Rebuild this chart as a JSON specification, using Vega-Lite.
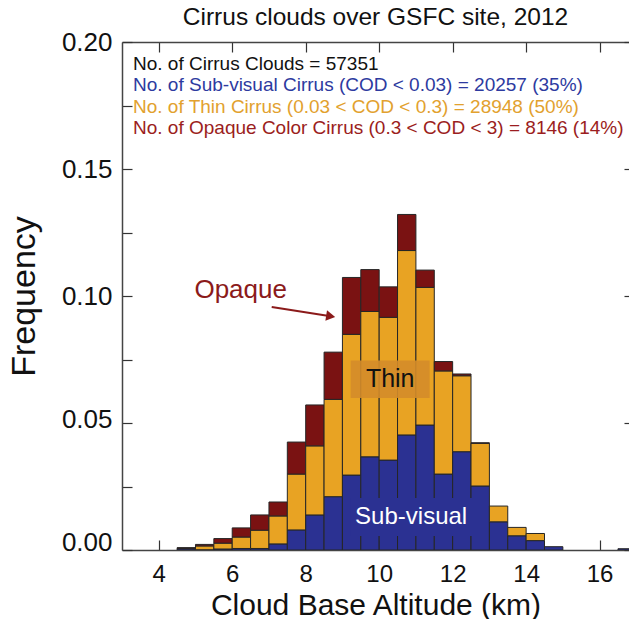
{
  "$schema": "https://vega.github.io/schema/vega-lite/v6.json",
  "width": 507,
  "height": 508,
  "autosize": {"type": "none"},
  "padding": {"left": 122, "top": 42, "right": 0, "bottom": 69},
  "background": "white",
  "config": {"view": {"stroke": null}, "font": "Liberation Sans", "axis": {"grid": false}},
  "title": {"text": "Cirrus clouds over GSFC site, 2012", "fontSize": 24.5, "fontWeight": "normal", "font": "Liberation Sans", "color": "#111111", "frame": "group", "anchor": "middle", "offset": -1},
  "datasets": {
    "bars": [
      {"x0": 4.5, "x1": 5.0, "type": "Sub-visual", "layer": 1, "freq": 0.0005},
      {"x0": 4.5, "x1": 5.0, "type": "Thin", "layer": 2, "freq": 0.0002},
      {"x0": 4.5, "x1": 5.0, "type": "Opaque", "layer": 3, "freq": 0.0002},
      {"x0": 5.0, "x1": 5.5, "type": "Sub-visual", "layer": 1, "freq": 0.0001},
      {"x0": 5.0, "x1": 5.5, "type": "Thin", "layer": 2, "freq": 0.0015},
      {"x0": 5.0, "x1": 5.5, "type": "Opaque", "layer": 3, "freq": 0.0006},
      {"x0": 5.5, "x1": 6.0, "type": "Sub-visual", "layer": 1, "freq": 0.0004},
      {"x0": 5.5, "x1": 6.0, "type": "Thin", "layer": 2, "freq": 0.0023},
      {"x0": 5.5, "x1": 6.0, "type": "Opaque", "layer": 3, "freq": 0.0018},
      {"x0": 6.0, "x1": 6.5, "type": "Sub-visual", "layer": 1, "freq": 0.0006},
      {"x0": 6.0, "x1": 6.5, "type": "Thin", "layer": 2, "freq": 0.0045},
      {"x0": 6.0, "x1": 6.5, "type": "Opaque", "layer": 3, "freq": 0.0036},
      {"x0": 6.5, "x1": 7.0, "type": "Sub-visual", "layer": 1, "freq": 0.0006},
      {"x0": 6.5, "x1": 7.0, "type": "Thin", "layer": 2, "freq": 0.0072},
      {"x0": 6.5, "x1": 7.0, "type": "Opaque", "layer": 3, "freq": 0.0060},
      {"x0": 7.0, "x1": 7.5, "type": "Sub-visual", "layer": 1, "freq": 0.0024},
      {"x0": 7.0, "x1": 7.5, "type": "Thin", "layer": 2, "freq": 0.0110},
      {"x0": 7.0, "x1": 7.5, "type": "Opaque", "layer": 3, "freq": 0.0055},
      {"x0": 7.5, "x1": 8.0, "type": "Sub-visual", "layer": 1, "freq": 0.0079},
      {"x0": 7.5, "x1": 8.0, "type": "Thin", "layer": 2, "freq": 0.0220},
      {"x0": 7.5, "x1": 8.0, "type": "Opaque", "layer": 3, "freq": 0.0126},
      {"x0": 8.0, "x1": 8.5, "type": "Sub-visual", "layer": 1, "freq": 0.0138},
      {"x0": 8.0, "x1": 8.5, "type": "Thin", "layer": 2, "freq": 0.0272},
      {"x0": 8.0, "x1": 8.5, "type": "Opaque", "layer": 3, "freq": 0.0161},
      {"x0": 8.5, "x1": 9.0, "type": "Sub-visual", "layer": 1, "freq": 0.0210},
      {"x0": 8.5, "x1": 9.0, "type": "Thin", "layer": 2, "freq": 0.0383},
      {"x0": 8.5, "x1": 9.0, "type": "Opaque", "layer": 3, "freq": 0.0186},
      {"x0": 9.0, "x1": 9.5, "type": "Sub-visual", "layer": 1, "freq": 0.0295},
      {"x0": 9.0, "x1": 9.5, "type": "Thin", "layer": 2, "freq": 0.0554},
      {"x0": 9.0, "x1": 9.5, "type": "Opaque", "layer": 3, "freq": 0.0224},
      {"x0": 9.5, "x1": 10.0, "type": "Sub-visual", "layer": 1, "freq": 0.0367},
      {"x0": 9.5, "x1": 10.0, "type": "Thin", "layer": 2, "freq": 0.0572},
      {"x0": 9.5, "x1": 10.0, "type": "Opaque", "layer": 3, "freq": 0.0165},
      {"x0": 10.0, "x1": 10.5, "type": "Sub-visual", "layer": 1, "freq": 0.0354},
      {"x0": 10.0, "x1": 10.5, "type": "Thin", "layer": 2, "freq": 0.0562},
      {"x0": 10.0, "x1": 10.5, "type": "Opaque", "layer": 3, "freq": 0.0120},
      {"x0": 10.5, "x1": 11.0, "type": "Sub-visual", "layer": 1, "freq": 0.0453},
      {"x0": 10.5, "x1": 11.0, "type": "Thin", "layer": 2, "freq": 0.0726},
      {"x0": 10.5, "x1": 11.0, "type": "Opaque", "layer": 3, "freq": 0.0142},
      {"x0": 11.0, "x1": 11.5, "type": "Sub-visual", "layer": 1, "freq": 0.0492},
      {"x0": 11.0, "x1": 11.5, "type": "Thin", "layer": 2, "freq": 0.0542},
      {"x0": 11.0, "x1": 11.5, "type": "Opaque", "layer": 3, "freq": 0.0068},
      {"x0": 11.5, "x1": 12.0, "type": "Sub-visual", "layer": 1, "freq": 0.0299},
      {"x0": 11.5, "x1": 12.0, "type": "Thin", "layer": 2, "freq": 0.0406},
      {"x0": 11.5, "x1": 12.0, "type": "Opaque", "layer": 3, "freq": 0.0037},
      {"x0": 12.0, "x1": 12.5, "type": "Sub-visual", "layer": 1, "freq": 0.0387},
      {"x0": 12.0, "x1": 12.5, "type": "Thin", "layer": 2, "freq": 0.0299},
      {"x0": 12.0, "x1": 12.5, "type": "Opaque", "layer": 3, "freq": 0.0007},
      {"x0": 12.5, "x1": 13.0, "type": "Sub-visual", "layer": 1, "freq": 0.0252},
      {"x0": 12.5, "x1": 13.0, "type": "Thin", "layer": 2, "freq": 0.0168},
      {"x0": 12.5, "x1": 13.0, "type": "Opaque", "layer": 3, "freq": 0.0002},
      {"x0": 13.0, "x1": 13.5, "type": "Sub-visual", "layer": 1, "freq": 0.0111},
      {"x0": 13.0, "x1": 13.5, "type": "Thin", "layer": 2, "freq": 0.0062},
      {"x0": 13.5, "x1": 14.0, "type": "Sub-visual", "layer": 1, "freq": 0.0056},
      {"x0": 13.5, "x1": 14.0, "type": "Thin", "layer": 2, "freq": 0.0033},
      {"x0": 14.0, "x1": 14.5, "type": "Sub-visual", "layer": 1, "freq": 0.0037},
      {"x0": 14.0, "x1": 14.5, "type": "Thin", "layer": 2, "freq": 0.0028},
      {"x0": 14.5, "x1": 15.0, "type": "Sub-visual", "layer": 1, "freq": 0.0013},
      {"x0": 16.5, "x1": 17.0, "type": "Sub-visual", "layer": 1, "freq": 0.0005}
    ],
    "notes": [
      {"x": 3.30, "y": 0.18917, "series": "total", "text": "No. of Cirrus Clouds = 57351"},
      {"x": 3.30, "y": 0.18071, "series": "sub", "text": "No. of Sub-visual Cirrus (COD < 0.03) = 20257 (35%)"},
      {"x": 3.30, "y": 0.17224, "series": "thin", "text": "No. of Thin Cirrus (0.03 < COD < 0.3) = 28948 (50%)"},
      {"x": 3.30, "y": 0.16378, "series": "opaque", "text": "No. of Opaque Color Cirrus (0.3 < COD < 3) = 8146 (14%)"}
    ]
  },
  "layer": [
    {
      "data": {"name": "bars"},
      "transform": [
        {"stack": "freq", "groupby": ["x0"], "sort": [{"field": "layer", "order": "ascending"}], "as": ["ylo", "yhi"], "offset": "zero"}
      ],
      "mark": {"type": "rect", "stroke": "#262626", "strokeWidth": 1, "clip": true},
      "encoding": {
        "x": {"field": "x0", "type": "quantitative", "scale": {"domain": [3, 16.8], "nice": false, "zero": false},
          "axis": {"orient": "bottom", "values": [4, 6, 8, 10, 12, 14, 16], "format": "d", "title": "Cloud Base Altitude (km)", "titleFontSize": 30, "titleFontWeight": "normal", "titleColor": "#111111", "titlePadding": 4, "labelFontSize": 24, "labelColor": "#111111", "labelPadding": 22, "labelFlush": false, "labelOverlap": false, "tickSize": -10, "tickColor": "#333333", "tickWidth": 1.2, "domainColor": "#444444", "domainWidth": 1.5}},
        "x2": {"field": "x1"},
        "y": {"field": "ylo", "type": "quantitative", "scale": {"domain": [0, 0.2], "nice": false},
          "axis": {"orient": "left", "values": [0, 0.025, 0.05, 0.075, 0.1, 0.125, 0.15, 0.175, 0.2], "labelExpr": "round(datum.value*40) % 2 == 0 ? format(datum.value, '.2f') : ''", "labelOffset": {"condition": [{"test": "datum.value == 0", "value": -8}, {"test": "datum.value == 0.05", "value": -4}], "value": 0}, "title": "Frequency", "titleFontSize": 34, "titleFontWeight": "normal", "titleColor": "#111111", "titlePadding": 20, "labelFontSize": 26, "labelColor": "#111111", "labelPadding": 20, "labelOverlap": false, "labelFlush": false, "tickSize": -10, "tickColor": "#333333", "tickWidth": 1.2, "domainColor": "#444444", "domainWidth": 1.5}},
        "y2": {"field": "yhi"},
        "color": {"field": "type", "type": "nominal", "scale": {"domain": ["Sub-visual", "Thin", "Opaque"], "range": ["#2b3192", "#e8a323", "#7a1212"]}, "legend": null}
      }
    },
    {
      "data": {"values": [{"x0": 9.224, "x1": 11.374, "y0": 0.0598, "y1": 0.0746}]},
      "mark": {"type": "rect", "fill": "#d48c2a", "opacity": 0.9},
      "encoding": {
        "x": {"field": "x0", "type": "quantitative", "scale": {"domain": [3, 16.8], "nice": false, "zero": false}, "axis": null},
        "x2": {"field": "x1"},
        "y": {"field": "y0", "type": "quantitative", "scale": {"domain": [0, 0.2], "nice": false}, "axis": null},
        "y2": {"field": "y1"}
      }
    },
    {
      "data": {"values": [{"x0": 9.22, "x1": 12.93, "y0": 0.0055, "y1": 0.0205}]},
      "mark": {"type": "rect", "fill": "#2b3192"},
      "encoding": {
        "x": {"field": "x0", "type": "quantitative", "scale": {"domain": [3, 16.8], "nice": false, "zero": false}, "axis": null},
        "x2": {"field": "x1"},
        "y": {"field": "y0", "type": "quantitative", "scale": {"domain": [0, 0.2], "nice": false}, "axis": null},
        "y2": {"field": "y1"}
      }
    },
    {
      "data": {"values": [{"x": 10.3, "y": 0.0672, "text": "Thin"}]},
      "mark": {"type": "text", "fontSize": 25, "color": "#111111", "align": "center", "baseline": "middle", "font": "Liberation Sans"},
      "encoding": {
        "x": {"field": "x", "type": "quantitative", "scale": {"domain": [3, 16.8], "nice": false, "zero": false}, "axis": null},
        "y": {"field": "y", "type": "quantitative", "scale": {"domain": [0, 0.2], "nice": false}, "axis": null},
        "text": {"field": "text"}
      }
    },
    {
      "data": {"values": [{"x": 10.87, "y": 0.0128, "text": "Sub-visual"}]},
      "mark": {"type": "text", "fontSize": 24, "color": "#ffffff", "align": "center", "baseline": "middle", "font": "Liberation Sans"},
      "encoding": {
        "x": {"field": "x", "type": "quantitative", "scale": {"domain": [3, 16.8], "nice": false, "zero": false}, "axis": null},
        "y": {"field": "y", "type": "quantitative", "scale": {"domain": [0, 0.2], "nice": false}, "axis": null},
        "text": {"field": "text"}
      }
    },
    {
      "data": {"values": [{"x": 6.23, "y": 0.1024, "text": "Opaque"}]},
      "mark": {"type": "text", "fontSize": 26, "color": "#8b1a1a", "align": "center", "baseline": "middle", "font": "Liberation Sans"},
      "encoding": {
        "x": {"field": "x", "type": "quantitative", "scale": {"domain": [3, 16.8], "nice": false, "zero": false}, "axis": null},
        "y": {"field": "y", "type": "quantitative", "scale": {"domain": [0, 0.2], "nice": false}, "axis": null},
        "text": {"field": "text"}
      }
    },
    {
      "data": {"values": [{"x0": 7.075, "y0": 0.0957, "x1": 8.68, "y1": 0.09205}]},
      "mark": {"type": "rule", "color": "#8b1a1a", "strokeWidth": 2},
      "encoding": {
        "x": {"field": "x0", "type": "quantitative", "scale": {"domain": [3, 16.8], "nice": false, "zero": false}, "axis": null},
        "x2": {"field": "x1"},
        "y": {"field": "y0", "type": "quantitative", "scale": {"domain": [0, 0.2], "nice": false}, "axis": null},
        "y2": {"field": "y1"}
      }
    },
    {
      "data": {"values": [{"x": 8.68, "y": 0.09205}]},
      "mark": {"type": "point", "shape": "triangle-right", "filled": true, "color": "#8b1a1a", "opacity": 1, "size": 110, "angle": 9},
      "encoding": {
        "x": {"field": "x", "type": "quantitative", "scale": {"domain": [3, 16.8], "nice": false, "zero": false}, "axis": null},
        "y": {"field": "y", "type": "quantitative", "scale": {"domain": [0, 0.2], "nice": false}, "axis": null}
      }
    },
    {
      "data": {"name": "notes"},
      "mark": {"type": "text", "align": "left", "baseline": "alphabetic", "fontSize": 19, "font": "Liberation Sans"},
      "encoding": {
        "x": {"field": "x", "type": "quantitative", "scale": {"domain": [3, 16.8], "nice": false, "zero": false},
          "axis": {"orient": "top", "values": [4, 6, 8, 10, 12, 14, 16], "labels": false, "title": null, "tickSize": -10, "tickColor": "#333333", "tickWidth": 1.2, "domainColor": "#444444", "domainWidth": 1.5}},
        "y": {"field": "y", "type": "quantitative", "scale": {"domain": [0, 0.2], "nice": false},
          "axis": {"orient": "right", "values": [0, 0.05, 0.1, 0.15, 0.2], "labels": false, "title": null, "domain": false, "tickSize": -5, "tickColor": "#333333", "tickWidth": 1.2}},
        "text": {"field": "text"},
        "color": {"field": "series", "type": "nominal", "scale": {"domain": ["total", "sub", "thin", "opaque"], "range": ["#111111", "#2d3aa0", "#e2a12e", "#9b1d20"]}, "legend": null}
      }
    }
  ],
  "resolve": {"scale": {"color": "independent"}}
}
